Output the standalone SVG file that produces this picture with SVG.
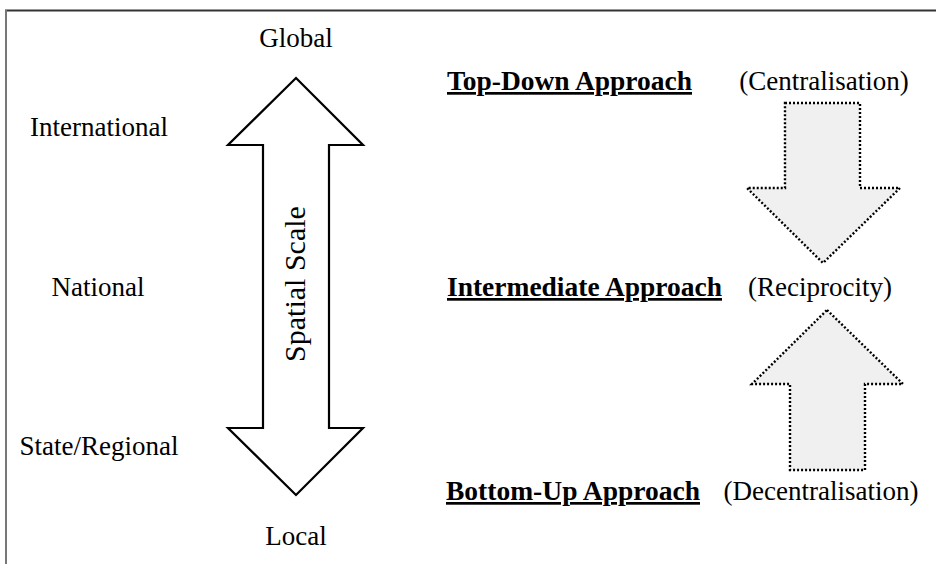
<svg xmlns="http://www.w3.org/2000/svg" width="936" height="564" viewBox="0 0 936 564">
  <style>
    .lbl { font-family: "Liberation Serif", "Times New Roman", serif; font-size: 27px; fill: #000; }
    .head { font-family: "Liberation Serif", "Times New Roman", serif; font-size: 27px; font-weight: bold; fill: #000; text-decoration: underline; }
    .solid { fill: #fff; stroke: #000; stroke-width: 2.2; stroke-linejoin: miter; }
    .dotted { fill: #f0f0f0; stroke: #000; stroke-width: 2.4; stroke-dasharray: 2 2; }
  </style>
  <rect width="936" height="564" fill="#fff"/>
  <!-- frame -->
  <line x1="5" y1="10.5" x2="936" y2="10.5" stroke="#333" stroke-width="2"/>
  <line x1="6" y1="10" x2="6" y2="564" stroke="#777" stroke-width="2"/>

  <!-- spatial scale levels -->
  <g id="levels">
    <text class="lbl" x="296" y="47" text-anchor="middle">Global</text>
    <text class="lbl" x="99" y="136" text-anchor="middle">International</text>
    <text class="lbl" x="98" y="296" text-anchor="middle">National</text>
    <text class="lbl" x="99" y="455" text-anchor="middle">State/Regional</text>
    <text class="lbl" x="296" y="545" text-anchor="middle">Local</text>
  </g>

  <!-- double-headed scale arrow -->
  <g id="scale-arrow">
    <polygon class="solid" points="296,78 363,145 329,145 329,428 363,428 296,495 228,428 263,428 263,145 228,145"/>
    <text class="lbl" transform="translate(305,284) rotate(-90)" text-anchor="middle" style="font-size:30px">Spatial Scale</text>
  </g>

  <!-- approaches -->
  <g id="top-down">
    <text class="head" x="447" y="90" textLength="245" lengthAdjust="spacingAndGlyphs">Top-Down Approach</text>
    <text class="lbl" x="824" y="90" text-anchor="middle">(Centralisation)</text>
  </g>
  <g id="intermediate">
    <text class="head" x="447" y="296" textLength="275" lengthAdjust="spacingAndGlyphs">Intermediate Approach</text>
    <text class="lbl" x="820" y="296" text-anchor="middle">(Reciprocity)</text>
  </g>
  <g id="bottom-up">
    <text class="head" x="446" y="500" textLength="254" lengthAdjust="spacingAndGlyphs">Bottom-Up Approach</text>
    <text class="lbl" x="821" y="500" text-anchor="middle">(Decentralisation)</text>
  </g>

  <!-- direction arrows -->
  <g id="connectors">
    <polygon class="dotted" points="785,103 860,103 860,188 900,188 823,263 747,188 785,188"/>
    <polygon class="dotted" points="827,310 903,384 865,384 865,470 790,470 790,384 752,384"/>
  </g>
</svg>
